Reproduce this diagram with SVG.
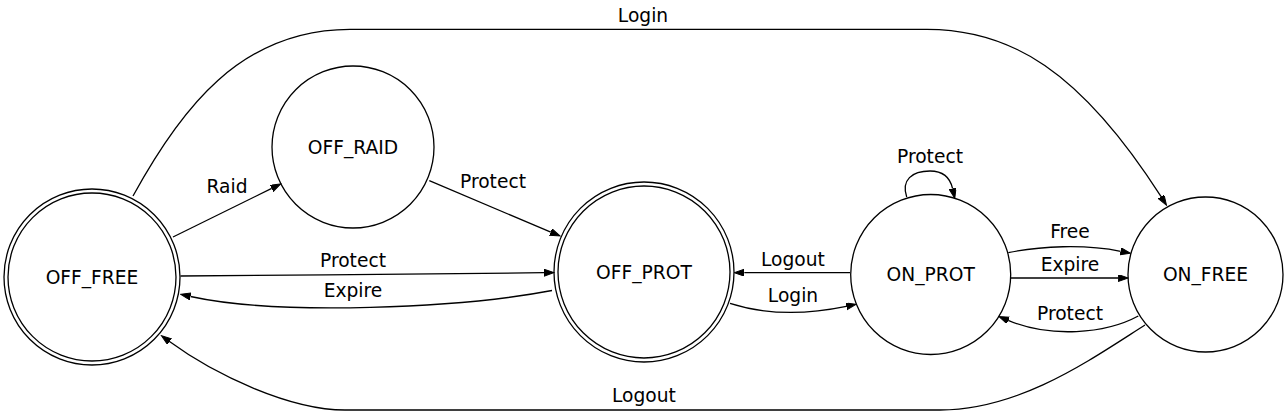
<svg xmlns="http://www.w3.org/2000/svg" width="1288" height="416" viewBox="0 0 1288 416">
<style>
text{font-family:"DejaVu Sans",Verdana,sans-serif;font-size:18.67px;fill:#000;text-anchor:middle}
.n{fill:none;stroke:#000;stroke-width:1.3}
.e{fill:none;stroke:#000;stroke-width:1.3;marker-end:url(#ah)}
</style>
<defs>
<marker id="ah" markerUnits="userSpaceOnUse" markerWidth="11" markerHeight="8" refX="0" refY="3.5" orient="auto">
<path d="M0,0 L10,3.5 L0,7 z" fill="#000" stroke="#000" stroke-width="1"/>
</marker>
</defs>
<rect width="1288" height="416" fill="#fff"/>
<g id="connectors">
<path class="e" d="M133,196 C180,110 240,29.3 350,29.3 L927,29.3 C1010,29.3 1080,70 1161.1,196.7"/>
<path class="e" d="M173,237 L271.7,188.4"/>
<path class="e" d="M429.3,180.7 L550.8,232.1"/>
<path class="e" d="M180.5,276 C300,275 430,274 544,272.7"/>
<path class="e" d="M552,290.5 C460,308 280,316 190.5,296.5"/>
<path class="e" d="M850,272.7 L744.3,272.7"/>
<path class="e" d="M730,303.3 C760,313 800,316 846.3,306.4"/>
<path class="e" d="M906.7,197 C901,180 912,171 930,171 C943,171 950,177 952.6,188.6"/>
<path class="e" d="M1008.3,252.7 C1040,246 1085,244 1120.6,251.3"/>
<path class="e" d="M1010.7,278 L1118.2,278"/>
<path class="e" d="M1138.3,316 C1105,334 1050,338 1008.2,320.4"/>
<path class="e" d="M1145,325 C1090,360 1020,410 940,410 L345,410 C290,410 215,375 169.5,341.6"/>
<text x="643" y="21.5">Login</text>
<text x="227" y="193.3">Raid</text>
<text x="493" y="188.3">Protect</text>
<text x="353" y="266.7">Protect</text>
<text x="353" y="297.3">Expire</text>
<text x="793" y="265.5">Logout</text>
<text x="793" y="301.7">Login</text>
<text x="930" y="162.7">Protect</text>
<text x="1070" y="238.3">Free</text>
<text x="1070" y="270.7">Expire</text>
<text x="1070" y="320">Protect</text>
<text x="644" y="401.7">Logout</text>
</g>
<g id="OFF_FREE">
<circle class="n" cx="92" cy="277" r="88"/>
<circle class="n" cx="92" cy="277" r="84"/>
<text x="92" y="283.5">OFF_FREE</text>
</g>
<g id="OFF_RAID">
<circle class="n" cx="353" cy="147" r="81"/>
<text x="353" y="153.5">OFF_RAID</text>
</g>
<g id="OFF_PROT">
<circle class="n" cx="644" cy="272" r="90"/>
<circle class="n" cx="644" cy="272" r="86"/>
<text x="644" y="278.5">OFF_PROT</text>
</g>
<g id="ON_PROT">
<circle class="n" cx="930.7" cy="274.5" r="80"/>
<text x="930.7" y="281">ON_PROT</text>
</g>
<g id="ON_FREE">
<circle class="n" cx="1205.5" cy="274.5" r="77.5"/>
<text x="1205.5" y="281">ON_FREE</text>
</g>
</svg>
